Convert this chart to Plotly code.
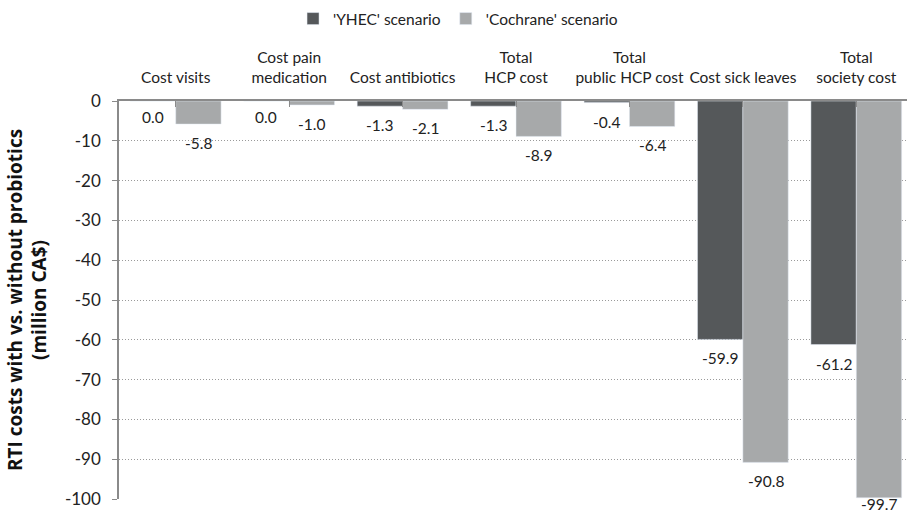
import plotly.graph_objects as go

categories = ["Cost visits", "Cost pain<br>medication", "Cost antibiotics", "Total<br>HCP cost",
              "Total<br>public HCP cost", "Cost sick leaves", "Total<br>society cost"]
yhec = [0.0, 0.0, -1.3, -1.3, -0.4, -59.9, -61.2]
cochrane = [-5.8, -1.0, -2.1, -8.9, -6.4, -90.8, -99.7]
y_ticks = [0, -10, -20, -30, -40, -50, -60, -70, -80, -90, -100]

FONT = "Lato"
DARK = "#55585a"
LIGHT = "#a7a9aa"

W, H = 907, 514
M_L, M_R, M_T, M_B = 119, 0, 101, 15
Y_MIN, Y_MAX = -100, 0

x_idx = list(range(len(categories)))

fig = go.Figure()
fig.add_trace(go.Bar(x=x_idx, y=yhec, name="'YHEC' scenario", marker_color=DARK))
fig.add_trace(go.Bar(x=x_idx, y=cochrane, name="'Cochrane' scenario", marker_color=LIGHT))

# value labels under each bar end, nudged up when they would run off the bottom
plot_h = H - M_T - M_B
shift = 22.7
for series, dx in ((yhec, -shift), (cochrane, shift)):
    for i, v in enumerate(series):
        end_px = M_T + (Y_MAX - v) / (Y_MAX - Y_MIN) * plot_h
        room = (H - 10) - end_px
        dy = 16 if v == 0 else min(19, room)
        fig.add_annotation(x=i, y=v, xref="x", yref="y", text=f"{v:.1f}",
                           showarrow=False, xshift=dx, yshift=-dy,
                           font=dict(family=FONT, size=15.5, color="#222"))

fig.update_layout(
    width=W, height=H,
    margin=dict(l=M_L, r=M_R, t=M_T, b=M_B),
    paper_bgcolor="white", plot_bgcolor="white",
    barmode="group", bargap=0.2, bargroupgap=0,
    font=dict(family=FONT, color="#222"),
    showlegend=True,
    legend=dict(orientation="h", x=0.505, xref="container", xanchor="center",
                y=1 - 2 / H, yref="container", yanchor="top",
                font=dict(family=FONT, size=15.5, color="#222"),
                itemwidth=30, traceorder="normal"),
    xaxis=dict(side="top", tickmode="array", tickvals=x_idx, ticktext=categories,
               range=[-0.5, 6.447], showgrid=False, zeroline=False,
               showline=True, linecolor="#8a8a8a", linewidth=1.5,
               ticks="inside", ticklen=6, tickcolor="#8a8a8a", tickson="boundaries",
               ticklabelstandoff=10,
               tickfont=dict(family=FONT, size=15.5, color="#222")),
    yaxis=dict(range=[Y_MIN, Y_MAX], tickvals=y_ticks, ticktext=[str(t) for t in y_ticks],
               showgrid=True, gridcolor="#9a9a9a", griddash="1px,2px", gridwidth=1,
               zeroline=False, showline=True, linecolor="#8a8a8a", linewidth=1.5,
               ticks="outside", ticklen=5, tickcolor="#8a8a8a", ticklabelstandoff=8,
               tickfont=dict(family=FONT, size=17, color="#222"),
               title=dict(text="<b>RTI costs with vs. without probiotics<br>(million CA$)</b>",
                          font=dict(family="Open Sans", size=19, color="#111"), standoff=13)),
)

fig.write_html("out.html")
